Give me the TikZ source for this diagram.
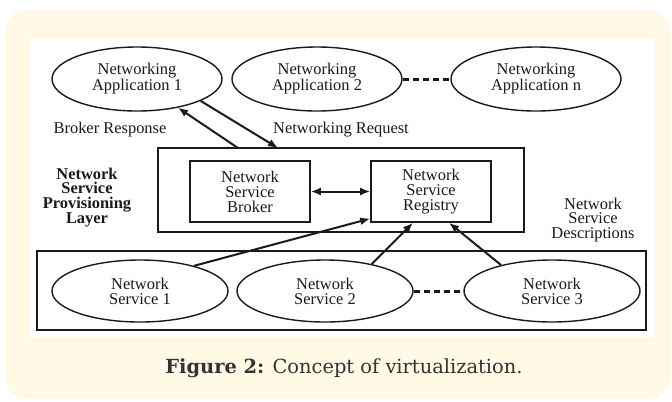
\documentclass[tikz,border=0pt]{standalone}
\usepackage{fontspec}
\setmainfont{Liberation Serif}
\newfontfamily\capfont{DejaVu Serif}
\usetikzlibrary{arrows.meta,shapes.geometric,positioning}

\definecolor{panelcream}{HTML}{FFF9E6}
\definecolor{inkgray}{HTML}{1A1A1A}
\definecolor{capgray}{HTML}{333333}

\tikzset{
    app/.style={ellipse,draw=inkgray,line width=1.4bp,minimum width=170bp,minimum height=64bp,inner sep=0pt,align=center},
    svc/.style={app,minimum width=176bp,minimum height=62bp},
    blk/.style={draw=inkgray,line width=1.6bp,minimum width=120bp,minimum height=61bp,align=center},
    frame/.style={draw=inkgray,line width=1.6bp,inner sep=0pt},
    flow/.style={draw=inkgray,line width=2bp,-{Latex[length=10bp,width=8bp]}},
    flowboth/.style={draw=inkgray,line width=2bp,{Latex[length=10bp,width=8bp]}-{Latex[length=10bp,width=8bp]}},
    dots/.style={draw=inkgray,line width=3bp,dash pattern=on 6bp off 4bp},
}

\begin{document}
\begin{tikzpicture}[x=1bp,y=-1bp,font=\fontsize{16.5}{15}\selectfont,text=inkgray]
    \useasboundingbox (0,0) rectangle (672,401);
    %% panel and figure area
    \fill[panelcream,rounded corners=22bp] (5,10) rectangle (671,399);
    \fill[white] (29,39) rectangle (655,337);
    %% applications
    \node[app] (app1) at (137,79) {Networking\\Application 1};
    \node[app] (app2) at (317,79) {Networking\\Application 2};
    \node[app] (appn) at (536,79) {Networking\\Application n};
    \draw[dots] (app2.east) -- (appn.west);
    %% provisioning layer
    \node[frame,minimum width=366bp,minimum height=84bp] (layer) at (341,190) {};
    \node[blk] (broker) at (250,191.5) {Network\\Service\\Broker};
    \node[blk] (registry) at (431,191.5) {Network\\Service\\Registry};
    \draw[flowboth] (broker) -- (registry);
    \node[align=center,font={\fontsize{16.5}{15}\selectfont\bfseries}] (provlbl) at (87,197.5) {Network\\Service\\Provisioning\\Layer};
    \node[align=center] (desclbl) at (593,220) {Network\\Service\\Descriptions};
    %% request / response
    \node (resplbl) at (110,130) {Broker Response};
    \node (reqlbl) at (341,130) {Networking Request};
    \coordinate (respfoot) at (238,148);
    \coordinate (reqhead) at (278,148);
    \draw[flow] (respfoot) -- (app1.-35);
    \draw[flow] (app1.-19) -- (reqhead);
    %% services
    \node[frame,minimum width=609bp,minimum height=79bp] (services) at (341.5,290.5) {};
    \node[svc] (svc1) at (140,291) {Network\\Service 1};
    \node[svc] (svc2) at (325,291) {Network\\Service 2};
    \node[svc] (svc3) at (552,291) {Network\\Service 3};
    \draw[dots] (svc2.east) -- (svc3.west);
    \draw[flow] (svc1.25) -- (registry.204);
    \draw[flow] (svc2.30) -- (registry.240);
    \draw[flow] (svc3.153) -- (registry.300);
    %% caption
    \node[font=\capfont\fontsize{19.5}{22}\selectfont,text=capgray] (caption) at (344,368) {\textbf{Figure 2:} Concept of virtualization.};
\end{tikzpicture}
\end{document}
